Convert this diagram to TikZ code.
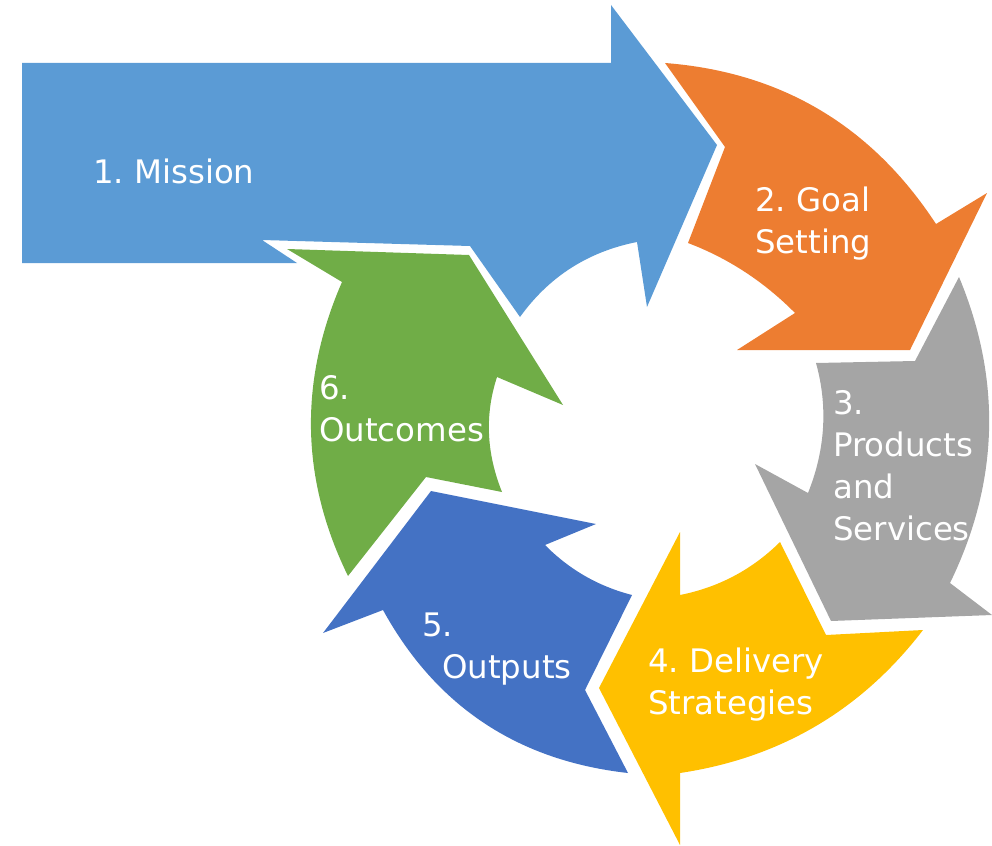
\documentclass[tikz,border=0pt]{standalone}
\usepackage{fontspec}
\setmainfont{DejaVu Sans}
\usepackage{tikz}
\usetikzlibrary{calc}
\usepackage{xcolor}
\definecolor{missionblue}{RGB}{91,155,213}
\definecolor{goalorange}{RGB}{237,125,49}
\definecolor{prodgray}{RGB}{165,165,165}
\definecolor{delivyellow}{RGB}{255,192,0}
\definecolor{outblue}{RGB}{68,114,196}
\definecolor{outgreen}{RGB}{112,173,71}
\frenchspacing
% curved edge from #1 through #2 to #3
\newcommand{\arcvia}[3]{.. controls ($1.3333*(#2)-0.3333*(#3)$) and ($1.3333*(#2)-0.3333*(#1)$) .. (#3)}

\begin{document}
\begin{tikzpicture}[
  x=1pt, y=-1pt,
  seg/.style={draw=none},
  lbl/.style={text=white, inner sep=0pt, anchor=base west, align=left, font=\fontsize{32.4}{42}\selectfont}
]
\useasboundingbox (0,0) rectangle (992,845);

\fill[seg, missionblue] (22,63) -- (611,63) -- (611,5) -- (717,145) -- (647,307) -- (637,242)
  \arcvia{637,242}{571,268}{520,317}
  -- (470,246) -- (262,240) -- (297,263) -- (22,263) -- cycle;

\fill[seg, goalorange] (665,63) -- (725,147) -- (688,243)
  \arcvia{688,243}{745,272}{795,313}
  -- (737,350) -- (910,350) -- (987,193) -- (936,224)
  \arcvia{936,224}{820,110}{665,63} -- cycle;

\fill[seg, prodgray] (959,277) -- (915,361) -- (816,363)
  \arcvia{816,363}{823,428}{808,493}
  -- (755,464) -- (831,621) -- (992,615) -- (950,583)
  \arcvia{950,583}{989,431}{959,277} -- cycle;

\fill[seg, delivyellow] (923,630) -- (826,635) -- (780,542)
  \arcvia{780,542}{734,576}{680,595}
  -- (680,532) -- (599,688) -- (680,845) -- (680,773)
  \arcvia{680,773}{816,726}{923,630} -- cycle;

\fill[seg, outblue] (628,773) -- (585,690) -- (632,595)
  \arcvia{632,595}{585,576}{545,545}
  -- (596,524) -- (431,491) -- (323,633) -- (383,610)
  \arcvia{383,610}{484,723}{628,773} -- cycle;

\fill[seg, outgreen] (348,576) -- (426,477) -- (502,492)
  \arcvia{502,492}{489,434}{497,377}
  -- (563,405) -- (469,255) -- (287,249) -- (342,282)
  \arcvia{342,282}{311,430}{348,576} -- cycle;

\node[lbl] (mission) at (93,183) {1. Mission};
\node[lbl] (goal) at (755,253) {2. Goal\\Setting};
\node[lbl] (products) at (833,540) {3.\\Products\\and\\Services};
\node[lbl] (delivery) at (648,714) {4. Delivery\\Strategies};
\node[lbl] (outputs) at (422,678) {5.\\\hspace*{20pt}Outputs};
\node[lbl] (outcomes) at (319,441) {6.\\Outcomes};

\end{tikzpicture}
\end{document}
